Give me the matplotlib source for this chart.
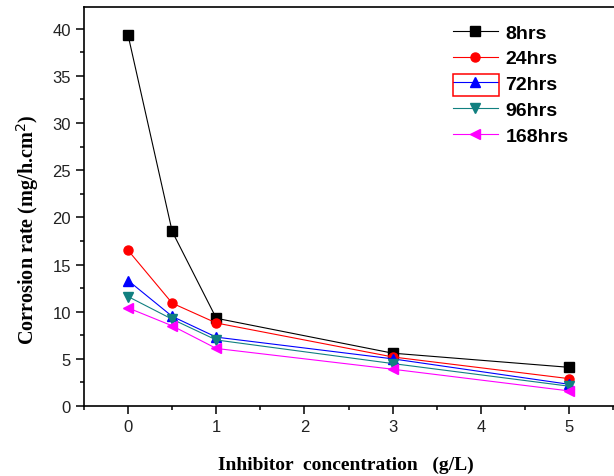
import matplotlib
matplotlib.use('Agg')
import matplotlib.pyplot as plt
from matplotlib.patches import Rectangle
from matplotlib.ticker import MultipleLocator

conc = [0, 0.5, 1, 3, 5]

rate_8 = [39.3, 18.5, 9.3, 5.6, 4.1]
rate_24 = [16.5, 10.9, 8.8, 5.2, 2.9]
rate_72 = [13.3, 9.5, 7.3, 5.0, 2.3]
rate_96 = [11.6, 9.2, 7.0, 4.5, 2.1]
rate_168 = [10.4, 8.5, 6.1, 3.9, 1.6]

labels = ['8hrs', '24hrs', '72hrs', '96hrs', '168hrs']
colors = ['black', 'red', 'blue', '#118080', 'magenta']
markers = ['s', 'o', '^', 'v', '<']

W, H = 614, 477
fig = plt.figure(figsize=(W / 100, H / 100), dpi=100)
ax = fig.add_axes([84 / W, 1 - 407 / H, 538 / W, 399 / H])

for y, lab, c, m in zip([rate_8, rate_24, rate_72, rate_96, rate_168], labels, colors, markers):
    ax.plot(conc, y, color=c, marker=m, markersize=6.5, linewidth=0.8, label=lab)

ax.set_xlim(-0.5, 5.6)
ax.set_ylim(0, 42.3)
ax.xaxis.set_major_locator(MultipleLocator(1))
ax.xaxis.set_minor_locator(MultipleLocator(0.5))
ax.yaxis.set_major_locator(MultipleLocator(5))
ax.yaxis.set_minor_locator(MultipleLocator(2.5))
ax.tick_params(which='both', direction='out', width=1.1, top=False, right=False)
ax.tick_params(which='major', length=5.5, labelsize=12, pad=4)
ax.tick_params(which='minor', length=3)
for lab in ax.get_xticklabels() + ax.get_yticklabels():
    lab.set_family('Liberation Sans')
    lab.set_color('#222222')
for s in ax.spines.values():
    s.set_linewidth(1.2)

ax.set_xlabel('Inhibitor  concentration   (g/L)', family='Liberation Serif',
              fontweight='bold', fontsize=14, va='center')
ax.xaxis.set_label_coords((346 - 84) / 538, (407 - 465) / 399)
ax.set_ylabel(r'Corrosion rate (mg/h.cm$^2$)', family='Liberation Serif',
              fontweight='bold', fontsize=14.5, va='center')
ax.yaxis.set_label_coords((28 - 84) / 538, (407 - 230) / 399)

leg = ax.legend(loc='upper left', bbox_to_anchor=(453 / W, 1 - 25 / H),
                bbox_transform=fig.transFigure, frameon=False,
                prop={'family': 'Liberation Sans', 'weight': 'bold', 'size': 14},
                handlelength=2.3, labelspacing=0.42, handletextpad=0.4,
                borderpad=0, borderaxespad=0)

# red selection box around the third legend handle
fig.patches.append(Rectangle((453 / W, 1 - 97 / H), 46 / W, 22 / H,
                             transform=fig.transFigure, fill=False,
                             edgecolor='red', linewidth=1.1))

fig.savefig('out.png', dpi=100)
